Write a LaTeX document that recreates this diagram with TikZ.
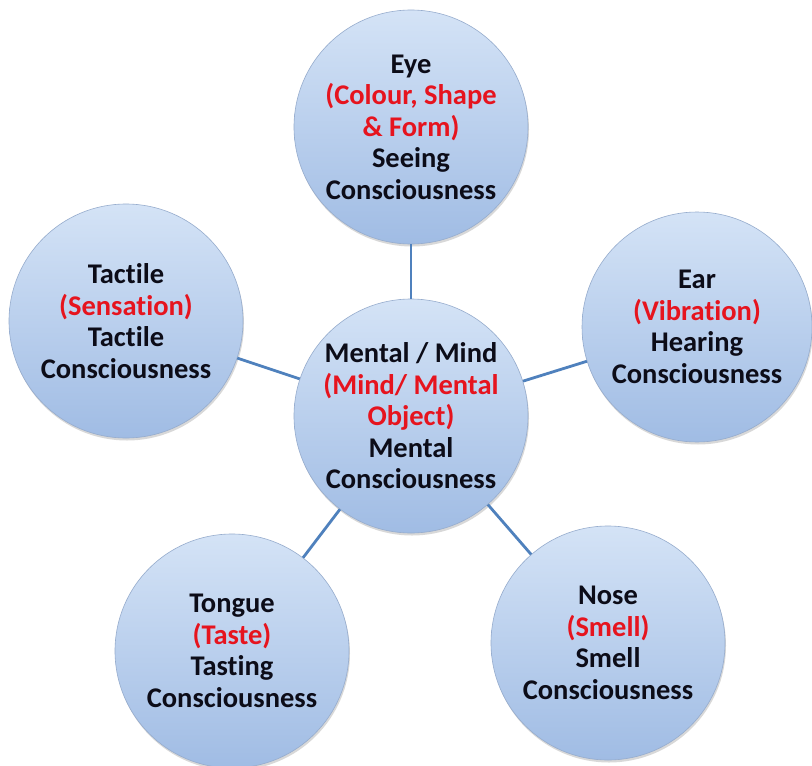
\documentclass[tikz,border=0pt]{standalone}
\usepackage{fontspec}
\setmainfont[Ligatures=NoCommon]{Carlito}
\usetikzlibrary{shadows}
\definecolor{tred}{RGB}{230,20,30}
\definecolor{tdark}{RGB}{12,12,24}
\definecolor{linkblue}{RGB}{79,129,189}
\definecolor{bubtop}{RGB}{212,227,246}
\definecolor{bubbot}{RGB}{160,188,228}
\definecolor{bubedge}{RGB}{150,172,205}
\tikzset{
  bubble/.style={circle, minimum size=234pt, inner sep=0pt, align=center,
    top color=bubtop, bottom color=bubbot, draw=bubedge, line width=0.6pt,
    drop shadow={opacity=0.3, shadow xshift=1pt, shadow yshift=-2.5pt},
    font=\fontsize{28.5}{31.5}\selectfont\bfseries, text=tdark},
  link/.style={draw=linkblue, line width=2.8pt}
}
\newcommand{\rd}[1]{\textcolor{tred}{#1}}
\begin{document}
\begin{tikzpicture}[x=1pt,y=-1pt]
\path[use as bounding box, fill=white] (0,0) rectangle (812,766);
\node[bubble] (mind) at (411,416) {Mental / Mind\\\rd{(Mind/ Mental}\\\rd{Object)}\\Mental\\Consciousness};
\node[bubble] (eye) at (411,127) {Eye\\\rd{(Colour, Shape}\\\rd{\& Form)}\\Seeing\\Consciousness};
\node[bubble] (tactile) at (126,321) {Tactile\\\rd{(Sensation)}\\Tactile\\Consciousness};
\node[bubble, minimum size=230pt] (ear) at (697,327) {Ear\\\rd{(Vibration)}\\Hearing\\Consciousness};
\node[bubble] (tongue) at (232,651) {Tongue\\\rd{(Taste)}\\Tasting\\Consciousness};
\node[bubble] (nose) at (608,643) {Nose\\\rd{(Smell)}\\Smell\\Consciousness};
\draw[link] (mind) -- (eye);
\draw[link] (mind) -- (tactile);
\draw[link] (mind) -- (ear);
\draw[link] (mind) -- (tongue);
\draw[link] (mind) -- (nose);
\end{tikzpicture}
\end{document}
